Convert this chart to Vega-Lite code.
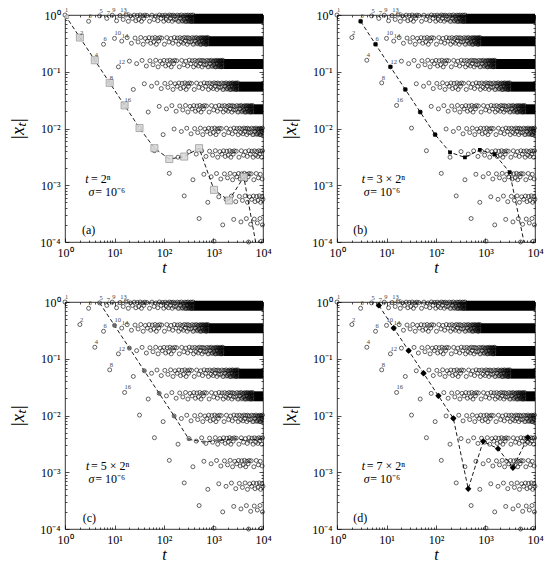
{
  "$schema": "https://vega.github.io/schema/vega-lite/v6.json",
  "padding": {"left": 9, "top": 6, "right": 6, "bottom": 4},
  "background": "#ffffff",
  "datasets": {
    "dense": [
      {"t": 400, "t2": 10000, "x": 0.7, "x2": 1.05},
      {"t": 800, "t2": 10000, "x": 0.281, "x2": 0.421},
      {"t": 1600, "t2": 10000, "x": 0.1117, "x2": 0.1675},
      {"t": 3200, "t2": 10000, "x": 0.0446, "x2": 0.0669},
      {"t": 6400, "t2": 10000, "x": 0.0178, "x2": 0.0267}
    ],
    "fade": [
      {"t": 160, "t2": 400, "x": 0.7, "x2": 1.05},
      {"t": 320, "t2": 800, "x": 0.281, "x2": 0.421},
      {"t": 640, "t2": 1600, "x": 0.1117, "x2": 0.1675},
      {"t": 1280, "t2": 3200, "x": 0.0446, "x2": 0.0669},
      {"t": 2560, "t2": 6400, "x": 0.0178, "x2": 0.0267},
      {"t": 5120, "t2": 12800, "x": 0.00712, "x2": 0.01068}
    ],
    "pts": [
      {"t":1,"x":1},{"t":3,"x":0.775},{"t":5,"x":0.964},{"t":7,"x":0.871},{"t":9,"x":0.994},{"t":11,"x":0.792},{"t":13,"x":0.98},{"t":15,"x":0.834},{"t":17,"x":1},{"t":19,"x":0.775},{"t":21,"x":0.964},{"t":23,"x":0.871},{"t":25,"x":0.994},{"t":27,"x":0.792},{"t":29,"x":0.98},{"t":31,"x":0.834},{"t":33,"x":1},{"t":35,"x":0.775},{"t":37,"x":0.964},{"t":39,"x":0.871},{"t":41,"x":0.994},
      {"t":45,"x":0.98},{"t":51,"x":0.775},{"t":57,"x":0.994},{"t":63,"x":0.834},{"t":69,"x":0.964},{"t":75,"x":0.792},{"t":81,"x":1},{"t":87,"x":0.871},{"t":93,"x":0.98},{"t":99,"x":0.775},{"t":105,"x":0.994},{"t":111,"x":0.834},{"t":117,"x":0.964},{"t":123,"x":0.792},{"t":129,"x":1},{"t":135,"x":0.871},{"t":141,"x":0.98},{"t":147,"x":0.775},{"t":153,"x":0.994},{"t":159,"x":0.834},{"t":165,"x":0.964},
      {"t":175,"x":0.834},{"t":185,"x":0.994},{"t":195,"x":0.775},{"t":205,"x":0.98},{"t":215,"x":0.871},{"t":225,"x":1},{"t":235,"x":0.792},{"t":245,"x":0.964},{"t":255,"x":0.834},{"t":265,"x":0.994},{"t":275,"x":0.775},{"t":285,"x":0.98},{"t":295,"x":0.871},
      {"t":305,"x":1},{"t":315,"x":0.792},{"t":325,"x":0.964},{"t":335,"x":0.834},{"t":345,"x":0.994},{"t":355,"x":0.775},{"t":365,"x":0.98},{"t":375,"x":0.871},{"t":385,"x":1},{"t":395,"x":0.792},

      {"t":2,"x":0.401},{"t":6,"x":0.305},{"t":10,"x":0.387},{"t":14,"x":0.347},{"t":18,"x":0.399},{"t":22,"x":0.318},{"t":26,"x":0.393},{"t":30,"x":0.335},{"t":34,"x":0.401},{"t":38,"x":0.305},{"t":42,"x":0.387},{"t":46,"x":0.347},{"t":50,"x":0.399},{"t":54,"x":0.318},{"t":58,"x":0.393},{"t":62,"x":0.335},{"t":66,"x":0.401},{"t":70,"x":0.305},{"t":74,"x":0.387},{"t":78,"x":0.347},{"t":82,"x":0.399},
      {"t":90,"x":0.393},{"t":102,"x":0.305},{"t":114,"x":0.399},{"t":126,"x":0.335},{"t":138,"x":0.387},{"t":150,"x":0.318},{"t":162,"x":0.401},{"t":174,"x":0.347},{"t":186,"x":0.393},{"t":198,"x":0.305},{"t":210,"x":0.399},{"t":222,"x":0.335},{"t":234,"x":0.387},{"t":246,"x":0.318},{"t":258,"x":0.401},{"t":270,"x":0.347},{"t":282,"x":0.393},{"t":294,"x":0.305},{"t":306,"x":0.399},{"t":318,"x":0.335},{"t":330,"x":0.387},
      {"t":350,"x":0.335},{"t":370,"x":0.399},{"t":390,"x":0.305},{"t":410,"x":0.393},{"t":430,"x":0.347},{"t":450,"x":0.401},{"t":470,"x":0.318},{"t":490,"x":0.387},{"t":510,"x":0.335},{"t":530,"x":0.399},{"t":550,"x":0.305},{"t":570,"x":0.393},{"t":590,"x":0.347},
      {"t":610,"x":0.401},{"t":630,"x":0.318},{"t":650,"x":0.387},{"t":670,"x":0.335},{"t":690,"x":0.399},{"t":710,"x":0.305},{"t":730,"x":0.393},{"t":750,"x":0.347},{"t":770,"x":0.401},{"t":790,"x":0.318},

      {"t":4,"x":0.1595},{"t":12,"x":0.122},{"t":20,"x":0.1538},{"t":28,"x":0.139},{"t":36,"x":0.1585},{"t":44,"x":0.1263},{"t":52,"x":0.1563},{"t":60,"x":0.133},{"t":68,"x":0.1595},{"t":76,"x":0.122},{"t":84,"x":0.1538},{"t":92,"x":0.139},{"t":100,"x":0.1585},{"t":108,"x":0.1263},{"t":116,"x":0.1563},{"t":124,"x":0.133},{"t":132,"x":0.1595},{"t":140,"x":0.122},{"t":148,"x":0.1538},{"t":156,"x":0.139},{"t":164,"x":0.1585},
      {"t":180,"x":0.1563},{"t":204,"x":0.122},{"t":228,"x":0.1585},{"t":252,"x":0.133},{"t":276,"x":0.1538},{"t":300,"x":0.1263},{"t":324,"x":0.1595},{"t":348,"x":0.139},{"t":372,"x":0.1563},{"t":396,"x":0.122},{"t":420,"x":0.1585},{"t":444,"x":0.133},{"t":468,"x":0.1538},{"t":492,"x":0.1263},{"t":516,"x":0.1595},{"t":540,"x":0.139},{"t":564,"x":0.1563},{"t":588,"x":0.122},{"t":612,"x":0.1585},{"t":636,"x":0.133},{"t":660,"x":0.1538},
      {"t":700,"x":0.133},{"t":740,"x":0.1585},{"t":780,"x":0.122},{"t":820,"x":0.1563},{"t":860,"x":0.139},{"t":900,"x":0.1595},{"t":940,"x":0.1263},{"t":980,"x":0.1538},{"t":1020,"x":0.133},{"t":1060,"x":0.1585},{"t":1100,"x":0.122},{"t":1140,"x":0.1563},{"t":1180,"x":0.139},
      {"t":1220,"x":0.1595},{"t":1260,"x":0.1263},{"t":1300,"x":0.1538},{"t":1340,"x":0.133},{"t":1380,"x":0.1585},{"t":1420,"x":0.122},{"t":1460,"x":0.1563},{"t":1500,"x":0.139},{"t":1540,"x":0.1595},{"t":1580,"x":0.1263},

      {"t":8,"x":0.0637},{"t":24,"x":0.0487},{"t":40,"x":0.0614},{"t":56,"x":0.0555},{"t":72,"x":0.0633},{"t":88,"x":0.0505},{"t":104,"x":0.0624},{"t":120,"x":0.0531},{"t":136,"x":0.0637},{"t":152,"x":0.0487},{"t":168,"x":0.0614},{"t":184,"x":0.0555},{"t":200,"x":0.0633},{"t":216,"x":0.0505},{"t":232,"x":0.0624},{"t":248,"x":0.0531},{"t":264,"x":0.0637},{"t":280,"x":0.0487},{"t":296,"x":0.0614},{"t":312,"x":0.0555},{"t":328,"x":0.0633},
      {"t":360,"x":0.0624},{"t":408,"x":0.0487},{"t":456,"x":0.0633},{"t":504,"x":0.0531},{"t":552,"x":0.0614},{"t":600,"x":0.0505},{"t":648,"x":0.0637},{"t":696,"x":0.0555},{"t":744,"x":0.0624},{"t":792,"x":0.0487},{"t":840,"x":0.0633},{"t":888,"x":0.0531},{"t":936,"x":0.0614},{"t":984,"x":0.0505},{"t":1032,"x":0.0637},{"t":1080,"x":0.0555},{"t":1128,"x":0.0624},{"t":1176,"x":0.0487},{"t":1224,"x":0.0633},{"t":1272,"x":0.0531},{"t":1320,"x":0.0614},
      {"t":1400,"x":0.0531},{"t":1480,"x":0.0633},{"t":1560,"x":0.0487},{"t":1640,"x":0.0624},{"t":1720,"x":0.0555},{"t":1800,"x":0.0637},{"t":1880,"x":0.0505},{"t":1960,"x":0.0614},{"t":2040,"x":0.0531},{"t":2120,"x":0.0633},{"t":2200,"x":0.0487},{"t":2280,"x":0.0624},{"t":2360,"x":0.0555},
      {"t":2440,"x":0.0637},{"t":2520,"x":0.0505},{"t":2600,"x":0.0614},{"t":2680,"x":0.0531},{"t":2760,"x":0.0633},{"t":2840,"x":0.0487},{"t":2920,"x":0.0624},{"t":3000,"x":0.0555},{"t":3080,"x":0.0637},{"t":3160,"x":0.0505},

      {"t":16,"x":0.02545},{"t":48,"x":0.0195},{"t":80,"x":0.02453},{"t":112,"x":0.02217},{"t":144,"x":0.0253},{"t":176,"x":0.02016},{"t":208,"x":0.02494},{"t":240,"x":0.02123},{"t":272,"x":0.02545},{"t":304,"x":0.0195},{"t":336,"x":0.02453},{"t":368,"x":0.02217},{"t":400,"x":0.0253},{"t":432,"x":0.02016},{"t":464,"x":0.02494},{"t":496,"x":0.02123},{"t":528,"x":0.02545},{"t":560,"x":0.0195},{"t":592,"x":0.02453},{"t":624,"x":0.02217},{"t":656,"x":0.0253},
      {"t":720,"x":0.02494},{"t":816,"x":0.0195},{"t":912,"x":0.0253},{"t":1008,"x":0.02123},{"t":1104,"x":0.02453},{"t":1200,"x":0.02016},{"t":1296,"x":0.02545},{"t":1392,"x":0.02217},{"t":1488,"x":0.02494},{"t":1584,"x":0.0195},{"t":1680,"x":0.0253},{"t":1776,"x":0.02123},{"t":1872,"x":0.02453},{"t":1968,"x":0.02016},{"t":2064,"x":0.02545},{"t":2160,"x":0.02217},{"t":2256,"x":0.02494},{"t":2352,"x":0.0195},{"t":2448,"x":0.0253},{"t":2544,"x":0.02123},{"t":2640,"x":0.02453},
      {"t":2800,"x":0.02123},{"t":2960,"x":0.0253},{"t":3120,"x":0.0195},{"t":3280,"x":0.02494},{"t":3440,"x":0.02217},{"t":3600,"x":0.02545},{"t":3760,"x":0.02016},{"t":3920,"x":0.02453},{"t":4080,"x":0.02123},{"t":4240,"x":0.0253},{"t":4400,"x":0.0195},{"t":4560,"x":0.02494},{"t":4720,"x":0.02217},
      {"t":4880,"x":0.02545},{"t":5040,"x":0.02016},{"t":5200,"x":0.02453},{"t":5360,"x":0.02123},{"t":5520,"x":0.0253},{"t":5680,"x":0.0195},{"t":5840,"x":0.02494},{"t":6000,"x":0.02217},{"t":6160,"x":0.02545},{"t":6320,"x":0.02016},

      {"t":32,"x":0.01017},{"t":96,"x":0.0078},{"t":160,"x":0.0098},{"t":224,"x":0.00886},{"t":288,"x":0.01011},{"t":352,"x":0.00805},{"t":416,"x":0.00997},{"t":480,"x":0.00848},{"t":544,"x":0.01017},{"t":608,"x":0.0078},{"t":672,"x":0.0098},{"t":736,"x":0.00886},{"t":800,"x":0.01011},{"t":864,"x":0.00805},{"t":928,"x":0.00997},{"t":992,"x":0.00848},{"t":1056,"x":0.01017},{"t":1120,"x":0.0078},{"t":1184,"x":0.0098},{"t":1248,"x":0.00886},{"t":1312,"x":0.01011},
      {"t":1440,"x":0.00997},{"t":1632,"x":0.0078},{"t":1824,"x":0.01011},{"t":2016,"x":0.00848},{"t":2208,"x":0.0098},{"t":2400,"x":0.00805},{"t":2592,"x":0.01017},{"t":2784,"x":0.00886},{"t":2976,"x":0.00997},{"t":3168,"x":0.0078},{"t":3360,"x":0.01011},{"t":3552,"x":0.00848},{"t":3744,"x":0.0098},{"t":3936,"x":0.00805},{"t":4128,"x":0.01017},{"t":4320,"x":0.00886},{"t":4512,"x":0.00997},{"t":4704,"x":0.0078},{"t":4896,"x":0.01011},{"t":5088,"x":0.00848},{"t":5280,"x":0.0098},
      {"t":5600,"x":0.00848},{"t":5920,"x":0.01011},{"t":6240,"x":0.0078},{"t":6560,"x":0.00997},{"t":6880,"x":0.00886},{"t":7200,"x":0.01017},{"t":7520,"x":0.00805},{"t":7840,"x":0.0098},{"t":8160,"x":0.00848},{"t":8480,"x":0.01011},{"t":8800,"x":0.0078},{"t":9120,"x":0.00997},{"t":9440,"x":0.00886},{"t":9760,"x":0.01017},

      {"t":64,"x":0.00406},{"t":192,"x":0.00312},{"t":320,"x":0.00392},{"t":448,"x":0.00354},{"t":576,"x":0.00404},{"t":704,"x":0.00322},{"t":832,"x":0.00398},{"t":960,"x":0.00339},{"t":1088,"x":0.00406},{"t":1216,"x":0.00312},{"t":1344,"x":0.00392},{"t":1472,"x":0.00354},{"t":1600,"x":0.00404},{"t":1728,"x":0.00322},{"t":1856,"x":0.00398},{"t":1984,"x":0.00339},{"t":2112,"x":0.00406},{"t":2240,"x":0.00312},{"t":2368,"x":0.00392},{"t":2496,"x":0.00354},{"t":2624,"x":0.00404},
      {"t":2880,"x":0.00398},{"t":3264,"x":0.00312},{"t":3648,"x":0.00404},{"t":4032,"x":0.00339},{"t":4416,"x":0.00392},{"t":4800,"x":0.00322},{"t":5184,"x":0.00406},{"t":5568,"x":0.00354},{"t":5952,"x":0.00398},{"t":6336,"x":0.00312},{"t":6720,"x":0.00404},{"t":7104,"x":0.00339},{"t":7488,"x":0.00392},{"t":7872,"x":0.00322},{"t":8256,"x":0.00406},{"t":8640,"x":0.00354},{"t":9024,"x":0.00398},{"t":9408,"x":0.00312},{"t":9792,"x":0.00404},

      {"t":128,"x":0.00162},{"t":384,"x":0.00125},{"t":640,"x":0.00156},{"t":896,"x":0.00141},{"t":1152,"x":0.00161},{"t":1408,"x":0.00129},{"t":1664,"x":0.00159},{"t":1920,"x":0.00135},{"t":2176,"x":0.00162},{"t":2432,"x":0.00125},{"t":2688,"x":0.00156},{"t":2944,"x":0.00141},{"t":3200,"x":0.00161},{"t":3456,"x":0.00129},{"t":3712,"x":0.00159},{"t":3968,"x":0.00135},{"t":4224,"x":0.00162},{"t":4480,"x":0.00125},{"t":4736,"x":0.00156},{"t":4992,"x":0.00141},{"t":5248,"x":0.00161},
      {"t":5760,"x":0.00159},{"t":6528,"x":0.00125},{"t":7296,"x":0.00161},{"t":8064,"x":0.00135},{"t":8832,"x":0.00156},{"t":9600,"x":0.00129},

      {"t":256,"x":0.000649},{"t":768,"x":0.0005},{"t":1280,"x":0.000626},{"t":1792,"x":0.000565},{"t":2304,"x":0.000645},{"t":2816,"x":0.000514},{"t":3328,"x":0.000636},{"t":3840,"x":0.000541},{"t":4352,"x":0.000649},{"t":4864,"x":0.0005},{"t":5376,"x":0.000626},{"t":5888,"x":0.000565},{"t":6400,"x":0.000645},{"t":6912,"x":0.000514},{"t":7424,"x":0.000636},{"t":7936,"x":0.000541},{"t":8448,"x":0.000649},{"t":8960,"x":0.0005},{"t":9472,"x":0.000626},{"t":9984,"x":0.000565},

      {"t":512,"x":0.000259},{"t":1536,"x":0.0002},{"t":2560,"x":0.00025},{"t":3584,"x":0.000226},{"t":4608,"x":0.000258},{"t":5632,"x":0.000205},{"t":6656,"x":0.000254},{"t":7680,"x":0.000216},{"t":8704,"x":0.000259},{"t":9728,"x":0.0002},

      {"t":1024,"x":0.0001035},{"t":5120,"x":0.0001},{"t":9216,"x":0.000103}
    ],
    "lines": [
      {"p":"a","t":1,"x":1},{"p":"a","t":2,"x":0.401},{"p":"a","t":4,"x":0.1595},{"p":"a","t":8,"x":0.0637},{"p":"a","t":16,"x":0.0255},{"p":"a","t":32,"x":0.0102},{"p":"a","t":64,"x":0.0045},{"p":"a","t":128,"x":0.0029},{"p":"a","t":256,"x":0.0032},{"p":"a","t":512,"x":0.0045},{"p":"a","t":1024,"x":0.00083},{"p":"a","t":2048,"x":0.00054},{"p":"a","t":4096,"x":0.0014},{"p":"a","t":8192,"x":0.00005},
      {"p":"b","t":3,"x":0.775},{"p":"b","t":6,"x":0.305},{"p":"b","t":12,"x":0.122},{"p":"b","t":24,"x":0.0487},{"p":"b","t":48,"x":0.0195},{"p":"b","t":96,"x":0.0078},{"p":"b","t":192,"x":0.0038},{"p":"b","t":384,"x":0.0031},{"p":"b","t":768,"x":0.0042},{"p":"b","t":1536,"x":0.0035},{"p":"b","t":3072,"x":0.0017},{"p":"b","t":6144,"x":0.00009},
      {"p":"c","t":5,"x":0.964},{"p":"c","t":10,"x":0.387},{"p":"c","t":20,"x":0.1538},{"p":"c","t":40,"x":0.0614},{"p":"c","t":80,"x":0.0245},{"p":"c","t":160,"x":0.0098},{"p":"c","t":320,"x":0.0038},{"p":"c","t":640,"x":0.0034},{"p":"c","t":1280,"x":0.0036},{"p":"c","t":2560,"x":0.0039},{"p":"c","t":5120,"x":0.0036},{"p":"c","t":10240,"x":0.004},
      {"p":"d","t":7,"x":0.871},{"p":"d","t":14,"x":0.347},{"p":"d","t":28,"x":0.139},{"p":"d","t":56,"x":0.0555},{"p":"d","t":112,"x":0.0222},{"p":"d","t":224,"x":0.0089},{"p":"d","t":448,"x":0.00051},{"p":"d","t":896,"x":0.0035},{"p":"d","t":1792,"x":0.0026},{"p":"d","t":3584,"x":0.0012},{"p":"d","t":7168,"x":0.0041}
    ],
    "labs": [
      {"t":1,"x":1,"n":"1"},{"t":2,"x":0.401,"n":"2"},{"t":3,"x":0.775,"n":"3"},{"t":4,"x":0.1595,"n":"4"},{"t":5,"x":0.964,"n":"5"},{"t":6,"x":0.305,"n":"6"},{"t":7,"x":0.871,"n":"7"},{"t":8,"x":0.0637,"n":"8"},
      {"t":9,"x":0.994,"n":"9"},{"t":10,"x":0.387,"n":"10"},{"t":11,"x":0.792,"n":"11"},{"t":12,"x":0.122,"n":"12"},{"t":13,"x":0.98,"n":"13"},{"t":14,"x":0.347,"n":"14"},{"t":15,"x":0.834,"n":"15"},{"t":16,"x":0.0255,"n":"16"}
    ],
    "annI": [
      {"p":"a","t":2.57,"x":0.0013,"s":"t"},{"p":"a","t":3.0,"x":0.00077,"s":"σ"},
      {"p":"b","t":3.15,"x":0.0013,"s":"t"},{"p":"b","t":3.46,"x":0.00077,"s":"σ"},
      {"p":"c","t":2.66,"x":0.0013,"s":"t"},{"p":"c","t":3.0,"x":0.00077,"s":"σ"},
      {"p":"d","t":3.15,"x":0.0013,"s":"t"},{"p":"d","t":3.46,"x":0.00077,"s":"σ"}
    ],
    "annR": [
      {"p":"a","t":3.35,"x":0.0013,"s":"= 2ⁿ"},{"p":"a","t":4.1,"x":0.00077,"s":"= 10⁻⁶"},{"p":"a","t":2.2,"x":0.000165,"s":"(a)"},
      {"p":"b","t":3.98,"x":0.0013,"s":"= 3 × 2ⁿ"},{"p":"b","t":4.7,"x":0.00077,"s":"= 10⁻⁶"},{"p":"b","t":2.13,"x":0.000165,"s":"(b)"},
      {"p":"c","t":3.35,"x":0.0013,"s":"= 5 × 2ⁿ"},{"p":"c","t":4.1,"x":0.00077,"s":"= 10⁻⁶"},{"p":"c","t":2.28,"x":0.000155,"s":"(c)"},
      {"p":"d","t":3.98,"x":0.0013,"s":"= 7 × 2ⁿ"},{"p":"d","t":4.7,"x":0.00077,"s":"= 10⁻⁶"},{"p":"d","t":2.13,"x":0.000155,"s":"(d)"}
    ]
  },
  "columns": 2,
  "spacing": {"row": 60, "column": 74},
  "bounds": "flush",
  "concat": [
    {
      "width": 198, "height": 227,
      "resolve": {"axis": {"x": "independent", "y": "independent"}},
      "layer": [
        {"data": {"name": "dense"}, "mark": {"type": "rect", "color": "#000"},
         "encoding": {
           "x": {"field": "t", "type": "quantitative", "scale": {"type": "log", "domain": [1, 10000], "nice": false},
                 "axis": {"orient": "bottom", "values": [1, 10, 100, 1000, 10000], "tickSize": -4, "labelPadding": 9, "labelFlush": false, "labelOverlap": false, "labelFontSize": 12, "labelExpr": "'10' + ['⁰','¹','²','³','⁴'][round(log(datum.value)/LN10)]", "title": "t", "titleFontStyle": "italic", "titleFontWeight": "normal", "titleFontSize": 16, "titlePadding": 1, "domain": false, "grid": false}},
           "x2": {"field": "t2"},
           "y": {"field": "x", "type": "quantitative", "scale": {"type": "log", "domain": [0.0001, 1], "nice": false},
                 "axis": {"orient": "left", "values": [0.0001, 0.001, 0.01, 0.1, 1], "tickSize": -4, "labelPadding": 9, "labelFlush": false, "labelOverlap": false, "labelFontSize": 12, "labelExpr": "'10' + ['⁰','⁻¹','⁻²','⁻³','⁻⁴'][round(-log(datum.value)/LN10)]", "title": "|xₜ|", "titleFontStyle": "italic", "titleFontWeight": "normal", "titleFontSize": 18, "titlePadding": 12, "domain": false, "grid": false}},
           "y2": {"field": "x2"}
         }},
        {"data": {"name": "pts"}, "mark": {"type": "point", "shape": "circle", "size": 16, "filled": false, "stroke": "#111", "strokeWidth": 0.65, "opacity": 1},
         "encoding": {
           "x": {"field": "t", "type": "quantitative", "scale": {"type": "log", "domain": [1, 10000], "nice": false},
                 "axis": {"orient": "bottom", "values": [2,3,4,5,6,7,8,9,20,30,40,50,60,70,80,90,200,300,400,500,600,700,800,900,2000,3000,4000,5000,6000,7000,8000,9000], "tickSize": -2, "labels": false, "title": null, "domain": false, "grid": false}},
           "y": {"field": "x", "type": "quantitative", "scale": {"type": "log", "domain": [0.0001, 1], "nice": false},
                 "axis": {"orient": "left", "values": [0.0002,0.0003,0.0004,0.0005,0.0006,0.0007,0.0008,0.0009,0.002,0.003,0.004,0.005,0.006,0.007,0.008,0.009,0.02,0.03,0.04,0.05,0.06,0.07,0.08,0.09,0.2,0.3,0.4,0.5,0.6,0.7,0.8,0.9], "tickSize": -2, "labels": false, "title": null, "domain": false, "grid": false}}
         }},
        {"data": {"name": "fade"}, "mark": {"type": "rect", "clip": true, "fill": {"gradient": "linear", "x1": 0, "y1": 0, "x2": 1, "y2": 0, "stops": [{"offset": 0, "color": "rgba(0,0,0,0)"}, {"offset": 1, "color": "rgba(0,0,0,0.92)"}]}},
         "encoding": {
           "x": {"field": "t", "type": "quantitative", "scale": {"type": "log", "domain": [1, 10000], "nice": false}, "axis": null},
           "x2": {"field": "t2"},
           "y": {"field": "x", "type": "quantitative", "scale": {"type": "log", "domain": [0.0001, 1], "nice": false}, "axis": null},
           "y2": {"field": "x2"}
         }},
        {"data": {"name": "lines"}, "transform": [{"filter": "datum.p == 'a'"}],
         "mark": {"type": "line", "clip": true, "color": "#000", "strokeWidth": 0.9, "strokeDash": [4, 2.5]},
         "encoding": {
           "x": {"field": "t", "type": "quantitative", "scale": {"type": "log", "domain": [1, 10000], "nice": false},
                 "axis": {"orient": "top", "values": [1, 10, 100, 1000, 10000], "tickSize": -4, "labels": false, "title": null, "domain": false, "grid": false}},
           "y": {"field": "x", "type": "quantitative", "scale": {"type": "log", "domain": [0.0001, 1], "nice": false},
                 "axis": {"orient": "right", "values": [0.0001, 0.001, 0.01, 0.1, 1], "tickSize": -4, "labels": false, "title": null, "domain": false, "grid": false}}
         }},
        {"data": {"name": "lines"}, "transform": [{"filter": "datum.p == 'a'"}],
         "mark": {"type": "point", "clip": true, "shape": "square", "size": 50, "filled": true, "fill": "#d8d8d8", "stroke": "#8c8c8c", "strokeWidth": 0.8, "opacity": 0.85},
         "encoding": {
           "x": {"field": "t", "type": "quantitative", "scale": {"type": "log", "domain": [1, 10000], "nice": false},
                 "axis": {"orient": "top", "values": [2,3,4,5,6,7,8,9,20,30,40,50,60,70,80,90,200,300,400,500,600,700,800,900,2000,3000,4000,5000,6000,7000,8000,9000], "tickSize": -2, "labels": false, "title": null, "domain": false, "grid": false}},
           "y": {"field": "x", "type": "quantitative", "scale": {"type": "log", "domain": [0.0001, 1], "nice": false},
                 "axis": {"orient": "right", "values": [0.0002,0.0003,0.0004,0.0005,0.0006,0.0007,0.0008,0.0009,0.002,0.003,0.004,0.005,0.006,0.007,0.008,0.009,0.02,0.03,0.04,0.05,0.06,0.07,0.08,0.09,0.2,0.3,0.4,0.5,0.6,0.7,0.8,0.9], "tickSize": -2, "labels": false, "title": null, "domain": false, "grid": false}}
         }},
        {"data": {"name": "labs"}, "mark": {"type": "text", "fontSize": 6.5, "fill": "#444", "align": "left", "baseline": "bottom", "dy": -2},
         "encoding": {
           "x": {"field": "t", "type": "quantitative", "scale": {"type": "log", "domain": [1, 10000], "nice": false}, "axis": null},
           "y": {"field": "x", "type": "quantitative", "scale": {"type": "log", "domain": [0.0001, 1], "nice": false}, "axis": null},
           "text": {"field": "n"}
         }},
        {"data": {"name": "annI"}, "transform": [{"filter": "datum.p == 'a'"}],
         "mark": {"type": "text", "fontSize": 12, "fontStyle": "italic", "align": "left", "baseline": "middle"},
         "encoding": {
           "x": {"field": "t", "type": "quantitative", "scale": {"type": "log", "domain": [1, 10000], "nice": false}, "axis": null},
           "y": {"field": "x", "type": "quantitative", "scale": {"type": "log", "domain": [0.0001, 1], "nice": false}, "axis": null},
           "text": {"field": "s"}
         }},
        {"data": {"name": "annR"}, "transform": [{"filter": "datum.p == 'a'"}],
         "mark": {"type": "text", "fontSize": 12, "align": "left", "baseline": "middle"},
         "encoding": {
           "x": {"field": "t", "type": "quantitative", "scale": {"type": "log", "domain": [1, 10000], "nice": false}, "axis": null},
           "y": {"field": "x", "type": "quantitative", "scale": {"type": "log", "domain": [0.0001, 1], "nice": false}, "axis": null},
           "text": {"field": "s"}
         }}
      ]
    },
    {
      "width": 198, "height": 227,
      "resolve": {"axis": {"x": "independent", "y": "independent"}},
      "layer": [
        {"data": {"name": "dense"}, "mark": {"type": "rect", "color": "#000"},
         "encoding": {
           "x": {"field": "t", "type": "quantitative", "scale": {"type": "log", "domain": [1, 10000], "nice": false},
                 "axis": {"orient": "bottom", "values": [1, 10, 100, 1000, 10000], "tickSize": -4, "labelPadding": 9, "labelFlush": false, "labelOverlap": false, "labelFontSize": 12, "labelExpr": "'10' + ['⁰','¹','²','³','⁴'][round(log(datum.value)/LN10)]", "title": "t", "titleFontStyle": "italic", "titleFontWeight": "normal", "titleFontSize": 16, "titlePadding": 1, "domain": false, "grid": false}},
           "x2": {"field": "t2"},
           "y": {"field": "x", "type": "quantitative", "scale": {"type": "log", "domain": [0.0001, 1], "nice": false},
                 "axis": {"orient": "left", "values": [0.0001, 0.001, 0.01, 0.1, 1], "tickSize": -4, "labelPadding": 9, "labelFlush": false, "labelOverlap": false, "labelFontSize": 12, "labelExpr": "'10' + ['⁰','⁻¹','⁻²','⁻³','⁻⁴'][round(-log(datum.value)/LN10)]", "title": "|xₜ|", "titleFontStyle": "italic", "titleFontWeight": "normal", "titleFontSize": 18, "titlePadding": 12, "domain": false, "grid": false}},
           "y2": {"field": "x2"}
         }},
        {"data": {"name": "pts"}, "mark": {"type": "point", "shape": "circle", "size": 16, "filled": false, "stroke": "#111", "strokeWidth": 0.65, "opacity": 1},
         "encoding": {
           "x": {"field": "t", "type": "quantitative", "scale": {"type": "log", "domain": [1, 10000], "nice": false},
                 "axis": {"orient": "bottom", "values": [2,3,4,5,6,7,8,9,20,30,40,50,60,70,80,90,200,300,400,500,600,700,800,900,2000,3000,4000,5000,6000,7000,8000,9000], "tickSize": -2, "labels": false, "title": null, "domain": false, "grid": false}},
           "y": {"field": "x", "type": "quantitative", "scale": {"type": "log", "domain": [0.0001, 1], "nice": false},
                 "axis": {"orient": "left", "values": [0.0002,0.0003,0.0004,0.0005,0.0006,0.0007,0.0008,0.0009,0.002,0.003,0.004,0.005,0.006,0.007,0.008,0.009,0.02,0.03,0.04,0.05,0.06,0.07,0.08,0.09,0.2,0.3,0.4,0.5,0.6,0.7,0.8,0.9], "tickSize": -2, "labels": false, "title": null, "domain": false, "grid": false}}
         }},
        {"data": {"name": "fade"}, "mark": {"type": "rect", "clip": true, "fill": {"gradient": "linear", "x1": 0, "y1": 0, "x2": 1, "y2": 0, "stops": [{"offset": 0, "color": "rgba(0,0,0,0)"}, {"offset": 1, "color": "rgba(0,0,0,0.92)"}]}},
         "encoding": {
           "x": {"field": "t", "type": "quantitative", "scale": {"type": "log", "domain": [1, 10000], "nice": false}, "axis": null},
           "x2": {"field": "t2"},
           "y": {"field": "x", "type": "quantitative", "scale": {"type": "log", "domain": [0.0001, 1], "nice": false}, "axis": null},
           "y2": {"field": "x2"}
         }},
        {"data": {"name": "lines"}, "transform": [{"filter": "datum.p == 'b'"}],
         "mark": {"type": "line", "clip": true, "color": "#000", "strokeWidth": 0.9, "strokeDash": [4, 2.5]},
         "encoding": {
           "x": {"field": "t", "type": "quantitative", "scale": {"type": "log", "domain": [1, 10000], "nice": false},
                 "axis": {"orient": "top", "values": [1, 10, 100, 1000, 10000], "tickSize": -4, "labels": false, "title": null, "domain": false, "grid": false}},
           "y": {"field": "x", "type": "quantitative", "scale": {"type": "log", "domain": [0.0001, 1], "nice": false},
                 "axis": {"orient": "right", "values": [0.0001, 0.001, 0.01, 0.1, 1], "tickSize": -4, "labels": false, "title": null, "domain": false, "grid": false}}
         }},
        {"data": {"name": "lines"}, "transform": [{"filter": "datum.p == 'b'"}],
         "mark": {"type": "point", "clip": true, "shape": "square", "size": 14, "filled": true, "color": "#000", "opacity": 1},
         "encoding": {
           "x": {"field": "t", "type": "quantitative", "scale": {"type": "log", "domain": [1, 10000], "nice": false},
                 "axis": {"orient": "top", "values": [2,3,4,5,6,7,8,9,20,30,40,50,60,70,80,90,200,300,400,500,600,700,800,900,2000,3000,4000,5000,6000,7000,8000,9000], "tickSize": -2, "labels": false, "title": null, "domain": false, "grid": false}},
           "y": {"field": "x", "type": "quantitative", "scale": {"type": "log", "domain": [0.0001, 1], "nice": false},
                 "axis": {"orient": "right", "values": [0.0002,0.0003,0.0004,0.0005,0.0006,0.0007,0.0008,0.0009,0.002,0.003,0.004,0.005,0.006,0.007,0.008,0.009,0.02,0.03,0.04,0.05,0.06,0.07,0.08,0.09,0.2,0.3,0.4,0.5,0.6,0.7,0.8,0.9], "tickSize": -2, "labels": false, "title": null, "domain": false, "grid": false}}
         }},
        {"data": {"name": "labs"}, "mark": {"type": "text", "fontSize": 6.5, "fill": "#444", "align": "left", "baseline": "bottom", "dy": -2},
         "encoding": {
           "x": {"field": "t", "type": "quantitative", "scale": {"type": "log", "domain": [1, 10000], "nice": false}, "axis": null},
           "y": {"field": "x", "type": "quantitative", "scale": {"type": "log", "domain": [0.0001, 1], "nice": false}, "axis": null},
           "text": {"field": "n"}
         }},
        {"data": {"name": "annI"}, "transform": [{"filter": "datum.p == 'b'"}],
         "mark": {"type": "text", "fontSize": 12, "fontStyle": "italic", "align": "left", "baseline": "middle"},
         "encoding": {
           "x": {"field": "t", "type": "quantitative", "scale": {"type": "log", "domain": [1, 10000], "nice": false}, "axis": null},
           "y": {"field": "x", "type": "quantitative", "scale": {"type": "log", "domain": [0.0001, 1], "nice": false}, "axis": null},
           "text": {"field": "s"}
         }},
        {"data": {"name": "annR"}, "transform": [{"filter": "datum.p == 'b'"}],
         "mark": {"type": "text", "fontSize": 12, "align": "left", "baseline": "middle"},
         "encoding": {
           "x": {"field": "t", "type": "quantitative", "scale": {"type": "log", "domain": [1, 10000], "nice": false}, "axis": null},
           "y": {"field": "x", "type": "quantitative", "scale": {"type": "log", "domain": [0.0001, 1], "nice": false}, "axis": null},
           "text": {"field": "s"}
         }}
      ]
    },
    {
      "width": 198, "height": 227,
      "resolve": {"axis": {"x": "independent", "y": "independent"}},
      "layer": [
        {"data": {"name": "dense"}, "mark": {"type": "rect", "color": "#000"},
         "encoding": {
           "x": {"field": "t", "type": "quantitative", "scale": {"type": "log", "domain": [1, 10000], "nice": false},
                 "axis": {"orient": "bottom", "values": [1, 10, 100, 1000, 10000], "tickSize": -4, "labelPadding": 9, "labelFlush": false, "labelOverlap": false, "labelFontSize": 12, "labelExpr": "'10' + ['⁰','¹','²','³','⁴'][round(log(datum.value)/LN10)]", "title": "t", "titleFontStyle": "italic", "titleFontWeight": "normal", "titleFontSize": 16, "titlePadding": 1, "domain": false, "grid": false}},
           "x2": {"field": "t2"},
           "y": {"field": "x", "type": "quantitative", "scale": {"type": "log", "domain": [0.0001, 1], "nice": false},
                 "axis": {"orient": "left", "values": [0.0001, 0.001, 0.01, 0.1, 1], "tickSize": -4, "labelPadding": 9, "labelFlush": false, "labelOverlap": false, "labelFontSize": 12, "labelExpr": "'10' + ['⁰','⁻¹','⁻²','⁻³','⁻⁴'][round(-log(datum.value)/LN10)]", "title": "|xₜ|", "titleFontStyle": "italic", "titleFontWeight": "normal", "titleFontSize": 18, "titlePadding": 12, "domain": false, "grid": false}},
           "y2": {"field": "x2"}
         }},
        {"data": {"name": "pts"}, "mark": {"type": "point", "shape": "circle", "size": 16, "filled": false, "stroke": "#111", "strokeWidth": 0.65, "opacity": 1},
         "encoding": {
           "x": {"field": "t", "type": "quantitative", "scale": {"type": "log", "domain": [1, 10000], "nice": false},
                 "axis": {"orient": "bottom", "values": [2,3,4,5,6,7,8,9,20,30,40,50,60,70,80,90,200,300,400,500,600,700,800,900,2000,3000,4000,5000,6000,7000,8000,9000], "tickSize": -2, "labels": false, "title": null, "domain": false, "grid": false}},
           "y": {"field": "x", "type": "quantitative", "scale": {"type": "log", "domain": [0.0001, 1], "nice": false},
                 "axis": {"orient": "left", "values": [0.0002,0.0003,0.0004,0.0005,0.0006,0.0007,0.0008,0.0009,0.002,0.003,0.004,0.005,0.006,0.007,0.008,0.009,0.02,0.03,0.04,0.05,0.06,0.07,0.08,0.09,0.2,0.3,0.4,0.5,0.6,0.7,0.8,0.9], "tickSize": -2, "labels": false, "title": null, "domain": false, "grid": false}}
         }},
        {"data": {"name": "fade"}, "mark": {"type": "rect", "clip": true, "fill": {"gradient": "linear", "x1": 0, "y1": 0, "x2": 1, "y2": 0, "stops": [{"offset": 0, "color": "rgba(0,0,0,0)"}, {"offset": 1, "color": "rgba(0,0,0,0.92)"}]}},
         "encoding": {
           "x": {"field": "t", "type": "quantitative", "scale": {"type": "log", "domain": [1, 10000], "nice": false}, "axis": null},
           "x2": {"field": "t2"},
           "y": {"field": "x", "type": "quantitative", "scale": {"type": "log", "domain": [0.0001, 1], "nice": false}, "axis": null},
           "y2": {"field": "x2"}
         }},
        {"data": {"name": "lines"}, "transform": [{"filter": "datum.p == 'c'"}],
         "mark": {"type": "line", "clip": true, "color": "#000", "strokeWidth": 0.9, "strokeDash": [4, 2.5]},
         "encoding": {
           "x": {"field": "t", "type": "quantitative", "scale": {"type": "log", "domain": [1, 10000], "nice": false},
                 "axis": {"orient": "top", "values": [1, 10, 100, 1000, 10000], "tickSize": -4, "labels": false, "title": null, "domain": false, "grid": false}},
           "y": {"field": "x", "type": "quantitative", "scale": {"type": "log", "domain": [0.0001, 1], "nice": false},
                 "axis": {"orient": "right", "values": [0.0001, 0.001, 0.01, 0.1, 1], "tickSize": -4, "labels": false, "title": null, "domain": false, "grid": false}}
         }},
        {"data": {"name": "lines"}, "transform": [{"filter": "datum.p == 'c'"}],
         "mark": {"type": "point", "clip": true, "shape": "square", "size": 9, "filled": true, "color": "#666", "opacity": 1},
         "encoding": {
           "x": {"field": "t", "type": "quantitative", "scale": {"type": "log", "domain": [1, 10000], "nice": false},
                 "axis": {"orient": "top", "values": [2,3,4,5,6,7,8,9,20,30,40,50,60,70,80,90,200,300,400,500,600,700,800,900,2000,3000,4000,5000,6000,7000,8000,9000], "tickSize": -2, "labels": false, "title": null, "domain": false, "grid": false}},
           "y": {"field": "x", "type": "quantitative", "scale": {"type": "log", "domain": [0.0001, 1], "nice": false},
                 "axis": {"orient": "right", "values": [0.0002,0.0003,0.0004,0.0005,0.0006,0.0007,0.0008,0.0009,0.002,0.003,0.004,0.005,0.006,0.007,0.008,0.009,0.02,0.03,0.04,0.05,0.06,0.07,0.08,0.09,0.2,0.3,0.4,0.5,0.6,0.7,0.8,0.9], "tickSize": -2, "labels": false, "title": null, "domain": false, "grid": false}}
         }},
        {"data": {"name": "labs"}, "mark": {"type": "text", "fontSize": 6.5, "fill": "#444", "align": "left", "baseline": "bottom", "dy": -2},
         "encoding": {
           "x": {"field": "t", "type": "quantitative", "scale": {"type": "log", "domain": [1, 10000], "nice": false}, "axis": null},
           "y": {"field": "x", "type": "quantitative", "scale": {"type": "log", "domain": [0.0001, 1], "nice": false}, "axis": null},
           "text": {"field": "n"}
         }},
        {"data": {"name": "annI"}, "transform": [{"filter": "datum.p == 'c'"}],
         "mark": {"type": "text", "fontSize": 12, "fontStyle": "italic", "align": "left", "baseline": "middle"},
         "encoding": {
           "x": {"field": "t", "type": "quantitative", "scale": {"type": "log", "domain": [1, 10000], "nice": false}, "axis": null},
           "y": {"field": "x", "type": "quantitative", "scale": {"type": "log", "domain": [0.0001, 1], "nice": false}, "axis": null},
           "text": {"field": "s"}
         }},
        {"data": {"name": "annR"}, "transform": [{"filter": "datum.p == 'c'"}],
         "mark": {"type": "text", "fontSize": 12, "align": "left", "baseline": "middle"},
         "encoding": {
           "x": {"field": "t", "type": "quantitative", "scale": {"type": "log", "domain": [1, 10000], "nice": false}, "axis": null},
           "y": {"field": "x", "type": "quantitative", "scale": {"type": "log", "domain": [0.0001, 1], "nice": false}, "axis": null},
           "text": {"field": "s"}
         }}
      ]
    },
    {
      "width": 198, "height": 227,
      "resolve": {"axis": {"x": "independent", "y": "independent"}},
      "layer": [
        {"data": {"name": "dense"}, "mark": {"type": "rect", "color": "#000"},
         "encoding": {
           "x": {"field": "t", "type": "quantitative", "scale": {"type": "log", "domain": [1, 10000], "nice": false},
                 "axis": {"orient": "bottom", "values": [1, 10, 100, 1000, 10000], "tickSize": -4, "labelPadding": 9, "labelFlush": false, "labelOverlap": false, "labelFontSize": 12, "labelExpr": "'10' + ['⁰','¹','²','³','⁴'][round(log(datum.value)/LN10)]", "title": "t", "titleFontStyle": "italic", "titleFontWeight": "normal", "titleFontSize": 16, "titlePadding": 1, "domain": false, "grid": false}},
           "x2": {"field": "t2"},
           "y": {"field": "x", "type": "quantitative", "scale": {"type": "log", "domain": [0.0001, 1], "nice": false},
                 "axis": {"orient": "left", "values": [0.0001, 0.001, 0.01, 0.1, 1], "tickSize": -4, "labelPadding": 9, "labelFlush": false, "labelOverlap": false, "labelFontSize": 12, "labelExpr": "'10' + ['⁰','⁻¹','⁻²','⁻³','⁻⁴'][round(-log(datum.value)/LN10)]", "title": "|xₜ|", "titleFontStyle": "italic", "titleFontWeight": "normal", "titleFontSize": 18, "titlePadding": 12, "domain": false, "grid": false}},
           "y2": {"field": "x2"}
         }},
        {"data": {"name": "pts"}, "mark": {"type": "point", "shape": "circle", "size": 16, "filled": false, "stroke": "#111", "strokeWidth": 0.65, "opacity": 1},
         "encoding": {
           "x": {"field": "t", "type": "quantitative", "scale": {"type": "log", "domain": [1, 10000], "nice": false},
                 "axis": {"orient": "bottom", "values": [2,3,4,5,6,7,8,9,20,30,40,50,60,70,80,90,200,300,400,500,600,700,800,900,2000,3000,4000,5000,6000,7000,8000,9000], "tickSize": -2, "labels": false, "title": null, "domain": false, "grid": false}},
           "y": {"field": "x", "type": "quantitative", "scale": {"type": "log", "domain": [0.0001, 1], "nice": false},
                 "axis": {"orient": "left", "values": [0.0002,0.0003,0.0004,0.0005,0.0006,0.0007,0.0008,0.0009,0.002,0.003,0.004,0.005,0.006,0.007,0.008,0.009,0.02,0.03,0.04,0.05,0.06,0.07,0.08,0.09,0.2,0.3,0.4,0.5,0.6,0.7,0.8,0.9], "tickSize": -2, "labels": false, "title": null, "domain": false, "grid": false}}
         }},
        {"data": {"name": "fade"}, "mark": {"type": "rect", "clip": true, "fill": {"gradient": "linear", "x1": 0, "y1": 0, "x2": 1, "y2": 0, "stops": [{"offset": 0, "color": "rgba(0,0,0,0)"}, {"offset": 1, "color": "rgba(0,0,0,0.92)"}]}},
         "encoding": {
           "x": {"field": "t", "type": "quantitative", "scale": {"type": "log", "domain": [1, 10000], "nice": false}, "axis": null},
           "x2": {"field": "t2"},
           "y": {"field": "x", "type": "quantitative", "scale": {"type": "log", "domain": [0.0001, 1], "nice": false}, "axis": null},
           "y2": {"field": "x2"}
         }},
        {"data": {"name": "lines"}, "transform": [{"filter": "datum.p == 'd'"}],
         "mark": {"type": "line", "clip": true, "color": "#000", "strokeWidth": 0.9, "strokeDash": [4, 2.5]},
         "encoding": {
           "x": {"field": "t", "type": "quantitative", "scale": {"type": "log", "domain": [1, 10000], "nice": false},
                 "axis": {"orient": "top", "values": [1, 10, 100, 1000, 10000], "tickSize": -4, "labels": false, "title": null, "domain": false, "grid": false}},
           "y": {"field": "x", "type": "quantitative", "scale": {"type": "log", "domain": [0.0001, 1], "nice": false},
                 "axis": {"orient": "right", "values": [0.0001, 0.001, 0.01, 0.1, 1], "tickSize": -4, "labels": false, "title": null, "domain": false, "grid": false}}
         }},
        {"data": {"name": "lines"}, "transform": [{"filter": "datum.p == 'd'"}],
         "mark": {"type": "point", "clip": true, "shape": "diamond", "size": 40, "filled": true, "color": "#000", "opacity": 1},
         "encoding": {
           "x": {"field": "t", "type": "quantitative", "scale": {"type": "log", "domain": [1, 10000], "nice": false},
                 "axis": {"orient": "top", "values": [2,3,4,5,6,7,8,9,20,30,40,50,60,70,80,90,200,300,400,500,600,700,800,900,2000,3000,4000,5000,6000,7000,8000,9000], "tickSize": -2, "labels": false, "title": null, "domain": false, "grid": false}},
           "y": {"field": "x", "type": "quantitative", "scale": {"type": "log", "domain": [0.0001, 1], "nice": false},
                 "axis": {"orient": "right", "values": [0.0002,0.0003,0.0004,0.0005,0.0006,0.0007,0.0008,0.0009,0.002,0.003,0.004,0.005,0.006,0.007,0.008,0.009,0.02,0.03,0.04,0.05,0.06,0.07,0.08,0.09,0.2,0.3,0.4,0.5,0.6,0.7,0.8,0.9], "tickSize": -2, "labels": false, "title": null, "domain": false, "grid": false}}
         }},
        {"data": {"name": "labs"}, "mark": {"type": "text", "fontSize": 6.5, "fill": "#444", "align": "left", "baseline": "bottom", "dy": -2},
         "encoding": {
           "x": {"field": "t", "type": "quantitative", "scale": {"type": "log", "domain": [1, 10000], "nice": false}, "axis": null},
           "y": {"field": "x", "type": "quantitative", "scale": {"type": "log", "domain": [0.0001, 1], "nice": false}, "axis": null},
           "text": {"field": "n"}
         }},
        {"data": {"name": "annI"}, "transform": [{"filter": "datum.p == 'd'"}],
         "mark": {"type": "text", "fontSize": 12, "fontStyle": "italic", "align": "left", "baseline": "middle"},
         "encoding": {
           "x": {"field": "t", "type": "quantitative", "scale": {"type": "log", "domain": [1, 10000], "nice": false}, "axis": null},
           "y": {"field": "x", "type": "quantitative", "scale": {"type": "log", "domain": [0.0001, 1], "nice": false}, "axis": null},
           "text": {"field": "s"}
         }},
        {"data": {"name": "annR"}, "transform": [{"filter": "datum.p == 'd'"}],
         "mark": {"type": "text", "fontSize": 12, "align": "left", "baseline": "middle"},
         "encoding": {
           "x": {"field": "t", "type": "quantitative", "scale": {"type": "log", "domain": [1, 10000], "nice": false}, "axis": null},
           "y": {"field": "x", "type": "quantitative", "scale": {"type": "log", "domain": [0.0001, 1], "nice": false}, "axis": null},
           "text": {"field": "s"}
         }}
      ]
    }
  ],
  "config": {
    "font": "Liberation Serif",
    "view": {"stroke": "#000", "strokeWidth": 0.8},
    "axis": {"tickColor": "#000", "tickWidth": 0.7, "labelColor": "#000", "titleColor": "#000", "labelFont": "Liberation Serif", "titleFont": "Liberation Serif"},
    "text": {"font": "Liberation Serif"}
  }
}
